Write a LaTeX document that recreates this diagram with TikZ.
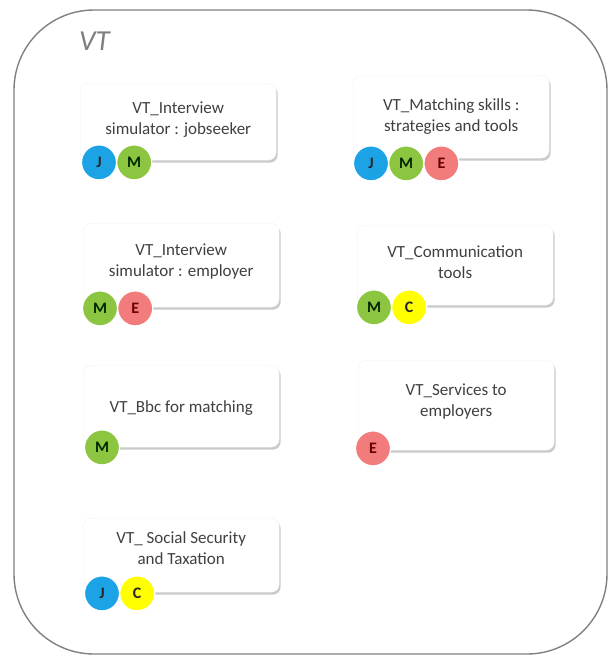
\documentclass[tikz,border=0pt]{standalone}
\usepackage{fontspec}
\setmainfont{Carlito}
\usetikzlibrary{positioning,shadows}

\definecolor{framegray}{HTML}{808080}
\definecolor{titlegray}{HTML}{7F7F7F}
\definecolor{textgray}{HTML}{404040}
\definecolor{jblue}{HTML}{1BA3E6}
\definecolor{mgreen}{HTML}{8CC540}
\definecolor{ered}{HTML}{F27B7B}
\definecolor{cyellow}{HTML}{FFFF00}

\tikzset{
	card/.style={anchor=north west, rounded corners=8pt, fill=white, draw=black!5,
		minimum width=196pt, drop shadow={shadow xshift=1.5pt, shadow yshift=-2.5pt, opacity=0.35, fill=black!60}},
	cardtext/.style={anchor=base, align=center, text=textgray, inner sep=0pt,
		font=\fontsize{17}{21}\selectfont},
	badge/.style={circle, minimum size=35pt, inner sep=0pt, draw=white, line width=1.2pt,
		font=\fontsize{16}{16}\selectfont\bfseries},
	jbadge/.style={badge, fill=jblue, text=black!85},
	mbadge/.style={badge, fill=mgreen, text=black!75!green!60!black},
	ebadge/.style={badge, fill=ered, text=red!40!black},
	cbadge/.style={badge, fill=cyellow, text=black!85},
}

\begin{document}
\begin{tikzpicture}[x=1pt, y=-1pt]
			%%%%% START %%%%%
			\useasboundingbox (0, 0) rectangle (609, 656);
			
			\draw[framegray, line width=1.4pt, rounded corners=80pt] (14, 10) rectangle (607, 654);
			\node[anchor=base west, inner sep=0pt, text=titlegray, font=\fontsize{29}{29}\selectfont\itshape] (title) at (79, 50) {VT};
			
			% left column (two-line labels sit on their last line)
			\node[card, minimum height=77pt] (sim1) at (80, 83) {};
			\node[cardtext] (sim1t) at ([yshift=-51pt]sim1.north) {VT\_Interview\\simulator : jobseeker};
			\node[jbadge] (sim1j) at ([xshift=19pt, yshift=-2pt]sim1.south west) {J};
			\node[mbadge, right=-1pt of sim1j] (sim1m) {M};
			
			\node[card, minimum height=84pt] (sim2) at (83, 223) {};
			\node[cardtext] (sim2t) at ([yshift=-53pt]sim2.north) {VT\_Interview\\simulator : employer};
			\node[mbadge] (sim2m) at ([xshift=17pt, yshift=-1pt]sim2.south west) {M};
			\node[ebadge, right=-1pt of sim2m] (sim2e) {E};
			
			\node[card, minimum height=82pt] (bbc) at (83, 365) {};
			\node[cardtext] (bbct) at ([yshift=-47pt]bbc.north) {VT\_Bbc for matching};
			\node[mbadge] (bbcm) at ([xshift=19pt, yshift=0pt]bbc.south west) {M};
			
			\node[card, minimum height=74pt] (soc) at (83, 518) {};
			\node[cardtext] (soct) at ([yshift=-46pt]soc.north) {VT\_ Social Security\\and Taxation};
			\node[jbadge] (socj) at ([xshift=19pt, yshift=-1pt]soc.south west) {J};
			\node[cbadge, right=-1pt of socj] (socc) {C};
			
			% right column
			\node[card, minimum height=83pt] (match) at (353, 75) {};
			\node[cardtext] (matcht) at ([yshift=-56pt]match.north) {VT\_Matching skills :\\strategies and tools};
			\node[jbadge] (matchj) at ([xshift=18pt, yshift=-5pt]match.south west) {J};
			\node[mbadge, right=-1pt of matchj] (matchm) {M};
			\node[ebadge, right=-1pt of matchm] (matche) {E};
			
			\node[card, minimum height=80pt] (comm) at (357, 225) {};
			\node[cardtext] (commt) at ([yshift=-53pt]comm.north) {VT\_Communication\\tools};
			\node[mbadge] (commm) at ([xshift=17pt, yshift=-2pt]comm.south west) {M};
			\node[cbadge, right=-1pt of commm] (commc) {C};
			
			\node[card, minimum height=90pt] (serv) at (358, 360) {};
			\node[cardtext] (servt) at ([yshift=-56pt]serv.north) {VT\_Services to\\employers};
			\node[ebadge] (serve) at ([xshift=15pt, yshift=2pt]serv.south west) {E};
			%%%%% END %%%%%
\end{tikzpicture}
\end{document}
